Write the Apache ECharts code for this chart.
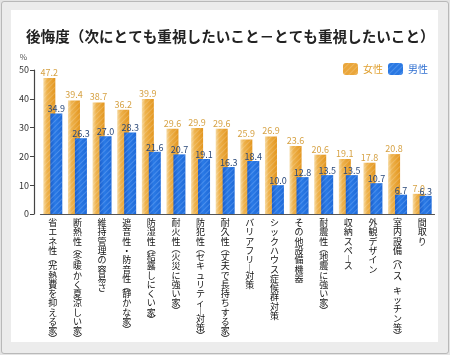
<!DOCTYPE html>
<html>
<head>
<meta charset="utf-8">
<script src="https://cdn.jsdelivr.net/npm/echarts@6/dist/echarts.min.js"></script>
<style>
html,body{margin:0;padding:0;width:450px;height:355px;overflow:hidden;background:#e4e4e4;}
#frame{position:absolute;left:1px;top:1px;width:446px;height:351px;border:1px solid #b9b9b9;border-radius:3px;background:#ececec;}
#panel{position:absolute;left:11px;top:10px;width:427px;height:332px;background:#ffffff;}
#chart{position:absolute;left:0;top:0;width:450px;height:355px;}
</style>
</head>
<body>
<div id="frame"></div>
<div id="panel"></div>
<div id="chart"></div>
<script>
const titleText = '後悔度（次にとても重視したいこと－とても重視したいこと）';
const categories = [
  '省エネ性（光熱費を抑える家）',
  '断熱性（冬暖かく夏涼しい家）',
  '維持管理の容易さ',
  '遮音性・防音性（静かな家）',
  '防湿性（結露しにくい家）',
  '耐火性（火災に強い家）',
  '防犯性（セキュリティー対策）',
  '耐久性（丈夫で長持ちする家）',
  'バリアフリー対策',
  'シックハウス症候群対策',
  'その他設備機器',
  '耐震性（地震に強い家）',
  '収納スペース',
  '外観デザイン',
  '室内設備（バス、キッチン等）',
  '間取り'
];
const femaleName = '女性';
const maleName = '男性';
const femaleValues = [47.2, 39.4, 38.7, 36.2, 39.9, 29.6, 29.9, 29.6, 25.9, 26.9, 23.6, 20.6, 19.1, 17.8, 20.8, 7.0];
const maleValues = [34.9, 26.3, 27.0, 28.3, 21.6, 20.7, 19.1, 16.3, 18.4, 10.0, 12.8, 13.5, 13.5, 10.7, 6.7, 6.3];
const yTicks = [0, 10, 20, 30, 40, 50];

const FONT = '"Noto Sans CJK JP", "Noto Sans", sans-serif';
const vmap = {'（':'︵','）':'︶','ー':'︱','、':'︑','－':'︱'};
function vertical(s){
  return Array.from(s).map(ch => {
    if (vmap[ch]) return '{p|' + vmap[ch] + '}';
    return '{c|' + ch + '}';
  }).join('\n');
}

const femaleColor = new echarts.graphic.LinearGradient(0,0,1,0,[
  {offset:0,color:'#f6d9a0'},{offset:0.3,color:'#eeb24c'},{offset:1,color:'#e3961f'}]);
const maleColor = new echarts.graphic.LinearGradient(0,0,1,0,[
  {offset:0,color:'#1b5fcc'},{offset:0.4,color:'#2a7ae6'},{offset:1,color:'#1f6ad8'}]);

const chart = echarts.init(document.getElementById('chart'), null, {renderer:'canvas'});
chart.setOption({
  animation:false,
  backgroundColor:'transparent',
  textStyle:{fontFamily:FONT},
  title:{
    text:titleText, left:21, top:24,
    textStyle:{fontFamily:FONT,fontSize:14.6,fontWeight:'bold',color:'#222'}
  },
  legend:{
    right:17, top:58, itemWidth:15, itemHeight:12, itemGap:5,
    textStyle:{fontFamily:FONT,fontSize:10},
    data:[
      {name:femaleName, itemStyle:{color:'#eaa63a'}, textStyle:{color:'#e0a030'}},
      {name:maleName, itemStyle:{color:'#2a78e2'}, textStyle:{color:'#2f6fd0'}}
    ]
  },
  grid:{left:40.5, right:15.5, top:70, bottom:141},
  xAxis:{
    type:'category', data:categories,
    axisLine:{lineStyle:{color:'#555',width:1.2}},
    axisTick:{show:false},
    axisLabel:{
      interval:0, margin:4, color:'#111',
      formatter:v=>vertical(v),
      rich:{
        c:{fontFamily:FONT,fontSize:9,lineHeight:9.3,color:'#111',align:'center'},
        p:{fontFamily:FONT,fontSize:9,lineHeight:6,color:'#111',align:'center'}
      }
    }
  },
  yAxis:{
    type:'value', min:0, max:50, interval:10, offset:6.5,
    name:'%', nameLocation:'end', nameGap:9,
    nameTextStyle:{fontFamily:FONT,fontSize:8,color:'#555',align:'right',padding:[0,7,0,0]},
    axisLine:{show:true,lineStyle:{color:'#444',width:1.2}},
    axisTick:{show:true,length:4,lineStyle:{color:'#444'}},
    axisLabel:{fontFamily:FONT,fontSize:9,color:'#333',margin:5,
      formatter:v=>yTicks.includes(v)?String(v):''},
    splitLine:{show:false}
  },
  series:[
    {
      name:femaleName, type:'bar', data:femaleValues,
      barWidth:12, barGap:'-42%',
      itemStyle:{color:femaleColor,
        decal:{symbol:'rect',symbolSize:1,color:'rgba(255,255,255,0.18)',dashArrayX:[1,0],dashArrayY:[1,3],rotation:-Math.PI/4}},
      label:{show:true,position:'top',distance:1,fontFamily:FONT,fontSize:9,color:'#d6a244',
        formatter:p=>p.value.toFixed(1)}
    },
    {
      name:maleName, type:'bar', data:maleValues,
      barWidth:12,
      itemStyle:{color:maleColor,
        decal:{symbol:'rect',symbolSize:1,color:'rgba(140,190,255,0.35)',dashArrayX:[1,0],dashArrayY:[1,3],rotation:-Math.PI/4}},
      label:{show:true,position:'top',distance:0,fontFamily:FONT,fontSize:9,color:'#2c4a7a',
        formatter:p=>p.value.toFixed(1)}
    }
  ]
});
</script>
</body>
</html>
